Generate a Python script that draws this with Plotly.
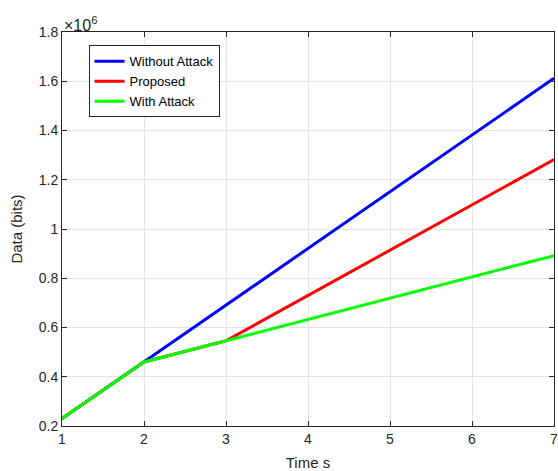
import plotly.graph_objects as go

# Simulation time steps (s)
time_s = [1, 2, 3, 4, 5, 6, 7]

# Cumulative data delivered (bits)
without_attack = [230000, 460000, 690000, 920000, 1150000, 1380000, 1612000]
proposed = [230000, 460000, 546000, 730000, 915000, 1098000, 1282000]
with_attack = [230000, 460000, 546000, 632000, 718000, 805000, 892000]

y_ticks = [200000, 400000, 600000, 800000, 1000000, 1200000, 1400000, 1600000, 1800000]
y_tick_text = ["0.2", "0.4", "0.6", "0.8", "1", "1.2", "1.4", "1.6", "1.8"]
x_ticks = [1, 2, 3, 4, 5, 6, 7]

series = [
    ("Without Attack", without_attack, "#0000ff"),
    ("Proposed", proposed, "#ff0000"),
    ("With Attack", with_attack, "#00ff00"),
]

FONT = "Liberation Sans, Arial, sans-serif"

fig = go.Figure()
for name, values, color in series:
    fig.add_trace(go.Scatter(x=time_s, y=values, mode="lines", name=name,
                             line=dict(color=color, width=3)))

axis_common = dict(
    showline=True, linecolor="#262626", linewidth=1, mirror="allticks",
    ticks="inside", ticklen=5, tickcolor="#262626",
    showgrid=True, gridcolor="#e4e4e4", gridwidth=1, zeroline=False,
    tickfont=dict(family=FONT, size=14, color="#262626"),
    ticklabeloverflow="allow",
)

fig.update_layout(
    width=558, height=471,
    margin=dict(l=62, r=0, t=32, b=45),
    paper_bgcolor="white", plot_bgcolor="white",
    font=dict(family=FONT, color="#262626"),
    xaxis=dict(range=[1, 7], tickvals=x_ticks,
               title=dict(text="Time s", font=dict(size=15), standoff=12), **axis_common),
    yaxis=dict(range=[200000, 1800000], tickvals=y_ticks, ticktext=y_tick_text,
               title=dict(text="Data (bits)", font=dict(size=15), standoff=12), **axis_common),
    legend=dict(x=0.054, y=0.966, xanchor="left", yanchor="top",
                bgcolor="white", bordercolor="#262626", borderwidth=1,
                font=dict(family=FONT, size=13, color="#000000"), tracegroupgap=0,
                itemwidth=30),
    showlegend=True,
)

fig.add_annotation(text="×10<sup>6</sup>", xref="paper", yref="paper", x=0, y=1,
                   xanchor="left", yanchor="bottom", showarrow=False,
                   font=dict(family=FONT, size=16, color="#262626"), yshift=-4)

fig.write_html("out.html")
